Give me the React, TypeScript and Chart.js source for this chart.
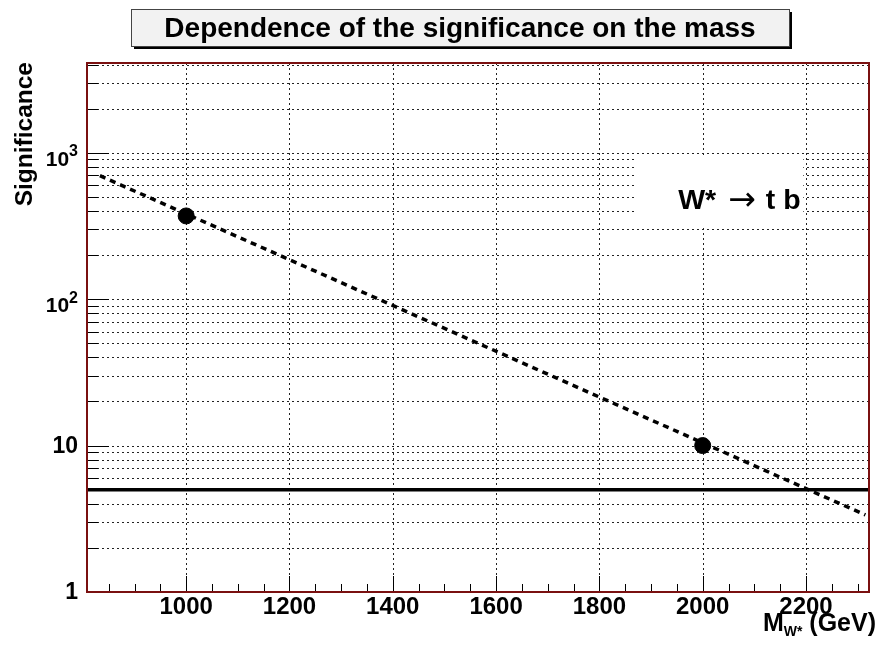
import React, { useEffect, useRef } from 'react';
import { Chart, registerables } from 'chart.js';

Chart.register(...registerables);

// ---- data ----
const massPoints = [1000, 2000];
const significancePoints = [370, 10];
const fitMass = [833, 2315];
const fitSignificance = [697, 3.36];
const thresholdMass = [808, 2322];
const thresholdSignificance = [5, 5];
const xTickValues = [1000, 1200, 1400, 1600, 1800, 2000, 2200];
const yDecades = [1, 10, 100, 1000];
const yDecadeBase = ['1', '10', '10', '10'];
const yDecadeExp = ['', '', '2', '3'];

const X_MIN = 808;
const X_MAX = 2322;
const Y_MIN = 1;
const Y_MAX = 4100;

const FONT = '"Liberation Sans", Arial, Helvetica, sans-serif';

const rootStyle = {
  id: 'rootStyle',
  beforeDraw(chart: any) {
    const ctx = chart.ctx;
    ctx.save();
    ctx.fillStyle = '#ffffff';
    ctx.fillRect(0, 0, chart.width, chart.height);
    ctx.restore();
  },
  beforeDatasetsDraw(chart: any) {
    const { ctx, chartArea: a, scales } = chart;
    const x = scales.x;
    const y = scales.y;
    ctx.save();
    ctx.strokeStyle = '#222';
    ctx.lineWidth = 1;
    ctx.setLineDash([2, 3]);
    for (const v of xTickValues) {
      const px = Math.round(x.getPixelForValue(v)) + 0.5;
      ctx.beginPath();
      ctx.moveTo(px, a.top);
      ctx.lineTo(px, a.bottom);
      ctx.stroke();
    }
    for (const t of y.ticks) {
      if (t.value <= Y_MIN || t.value >= Y_MAX) continue;
      const py = Math.round(y.getPixelForValue(t.value)) + 0.5;
      ctx.beginPath();
      ctx.moveTo(a.left, py);
      ctx.lineTo(a.right, py);
      ctx.stroke();
    }
    ctx.setLineDash([]);
    // annotation pave
    const w = a.right - a.left;
    const h = a.bottom - a.top;
    const bx = a.left + 0.701 * w;
    const bx2 = a.left + 0.916 * w;
    const by = a.top + 0.174 * h;
    const by2 = a.top + 0.312 * h;
    ctx.fillStyle = '#ffffff';
    ctx.fillRect(bx, by, bx2 - bx, by2 - by);
    ctx.fillStyle = '#000';
    ctx.textBaseline = 'alphabetic';
    ctx.textAlign = 'left';
    let tx = a.left + 0.756 * w;
    const ty = a.top + 0.276 * h;
    ctx.font = `bold 28.5px ${FONT}`;
    ctx.fillText('W*', tx, ty);
    tx += ctx.measureText('W*').width + 12;
    ctx.font = `33px "DejaVu Sans", sans-serif`;
    ctx.fillText('\u2192', tx, ty + 1);
    tx += ctx.measureText('\u2192').width + 10;
    ctx.font = `bold 28.5px ${FONT}`;
    ctx.fillText('t b', tx, ty);
    ctx.restore();
  },
  afterDatasetsDraw(chart: any) {
    const { ctx, chartArea: a, scales } = chart;
    const x = scales.x;
    const y = scales.y;
    ctx.save();
    ctx.strokeStyle = '#000';
    ctx.lineWidth = 1;
    // y tick marks
    for (const t of y.ticks) {
      if (t.value < Y_MIN || t.value > Y_MAX) continue;
      const py = Math.round(y.getPixelForValue(t.value)) + 0.5;
      const major = yDecades.includes(t.value);
      ctx.beginPath();
      ctx.moveTo(a.left, py);
      ctx.lineTo(a.left + (major ? 22 : 11), py);
      ctx.stroke();
    }
    // x tick marks
    for (let v = Math.ceil(X_MIN / 50) * 50; v <= X_MAX; v += 50) {
      const px = Math.round(x.getPixelForValue(v)) + 0.5;
      const major = v % 200 === 0;
      ctx.beginPath();
      ctx.moveTo(px, a.bottom);
      ctx.lineTo(px, a.bottom - (major ? 16 : 8));
      ctx.stroke();
    }
    // frame
    ctx.strokeStyle = '#7a1010';
    ctx.lineWidth = 2;
    ctx.strokeRect(a.left, a.top, a.right - a.left, a.bottom - a.top);

    // y labels
    ctx.fillStyle = '#000';
    ctx.textAlign = 'right';
    ctx.textBaseline = 'middle';
    yDecades.forEach((v, i) => {
      const py = y.getPixelForValue(v);
      const labelRight = a.left - 9;
      if (yDecadeExp[i]) {
        ctx.font = `bold 16px ${FONT}`;
        const ew = ctx.measureText(yDecadeExp[i]).width;
        ctx.fillText(yDecadeExp[i], labelRight, py - 1);
        ctx.font = `bold 21px ${FONT}`;
        ctx.fillText(yDecadeBase[i], labelRight - ew, py + 7);
      } else {
        ctx.font = `bold 23px ${FONT}`;
        ctx.fillText(yDecadeBase[i], labelRight, py + 1);
      }
    });

    // y title
    ctx.save();
    ctx.translate(32, 62);
    ctx.rotate(-Math.PI / 2);
    ctx.textAlign = 'right';
    ctx.textBaseline = 'alphabetic';
    ctx.font = `bold 24.5px ${FONT}`;
    ctx.fillText('Significance', 0, 0);
    ctx.restore();

    // x title: M_{W*} (GeV)
    ctx.textBaseline = 'alphabetic';
    ctx.textAlign = 'left';
    const big = `bold 25px ${FONT}`;
    const small = `bold 14px ${FONT}`;
    ctx.font = big;
    const wM = ctx.measureText('M').width;
    const wG = ctx.measureText(' (GeV)').width;
    ctx.font = small;
    const wS = ctx.measureText('W*').width;
    let sx = 876 - (wM + wS + wG);
    const base = 631;
    ctx.font = big;
    ctx.fillText('M', sx, base);
    sx += wM;
    ctx.font = small;
    ctx.fillText('W*', sx, base + 5);
    sx += wS;
    ctx.font = big;
    ctx.fillText(' (GeV)', sx, base);

    // title pave
    const tX = 131, tY = 9, tW = 658, tH = 37;
    ctx.fillStyle = '#000';
    ctx.fillRect(tX + 3, tY + 3, tW, tH);
    ctx.fillStyle = '#f2f2f2';
    ctx.fillRect(tX, tY, tW, tH);
    ctx.strokeStyle = '#444';
    ctx.lineWidth = 1;
    ctx.strokeRect(tX + 0.5, tY + 0.5, tW, tH);
    ctx.fillStyle = '#000';
    ctx.textAlign = 'center';
    ctx.textBaseline = 'alphabetic';
    ctx.font = `bold 28px ${FONT}`;
    ctx.fillText('Dependence of the significance on the mass', tX + tW / 2, 37);
    ctx.restore();
  },
};

export default function App() {
  const ref = useRef<HTMLCanvasElement | null>(null);
  useEffect(() => {
    document.body.style.margin = '0';
    const canvas = ref.current;
    if (!canvas) return;
    const chart = new Chart(canvas, {
      type: 'scatter',
      data: {
        datasets: [
          {
            label: 'fit',
            data: fitMass.map((m, i) => ({ x: m, y: fitSignificance[i] })),
            showLine: true,
            borderColor: '#000',
            borderWidth: 3.5,
            borderDash: [6, 5],
            pointRadius: 0,
          },
          {
            label: 'threshold',
            data: thresholdMass.map((m, i) => ({ x: m, y: thresholdSignificance[i] })),
            showLine: true,
            borderColor: '#000',
            borderWidth: 3.5,
            pointRadius: 0,
          },
          {
            label: 'significance',
            data: massPoints.map((m, i) => ({ x: m, y: significancePoints[i] })),
            showLine: false,
            backgroundColor: '#000',
            borderColor: '#000',
            pointRadius: 8,
            pointHoverRadius: 8,
          },
        ],
      },
      options: {
        responsive: false,
        animation: false,
        events: [],
        layout: { padding: { top: 63, right: 5, left: 0, bottom: 0 } },
        plugins: { legend: { display: false }, tooltip: { enabled: false }, title: { display: false } },
        scales: {
          x: {
            type: 'linear',
            min: X_MIN,
            max: X_MAX,
            grid: { display: false },
            border: { display: false },
            afterBuildTicks: (s: any) => {
              s.ticks = xTickValues.map((v) => ({ value: v }));
            },
            afterFit: (s: any) => {
              s.height = 58;
            },
            ticks: {
              color: '#000',
              padding: -7,
              maxRotation: 0,
              autoSkip: false,
              font: { family: FONT, size: 24, weight: 'bold' },
              callback: (v: any) => String(v),
            },
          },
          y: {
            type: 'logarithmic',
            min: Y_MIN,
            max: Y_MAX,
            grid: { display: false },
            border: { display: false },
            afterBuildTicks: (s: any) => {
              const t: any[] = [];
              for (const d of yDecades) {
                for (let k = 1; k <= 9; k++) {
                  const v = d * k;
                  if (v >= Y_MIN && v <= Y_MAX) t.push({ value: v });
                }
              }
              s.ticks = t;
            },
            afterFit: (s: any) => {
              s.width = 87;
            },
            ticks: { display: false },
          },
        },
      },
      plugins: [rootStyle],
    });
    return () => chart.destroy();
  }, []);
  return <canvas ref={ref} width={878} height={650} />;
}
